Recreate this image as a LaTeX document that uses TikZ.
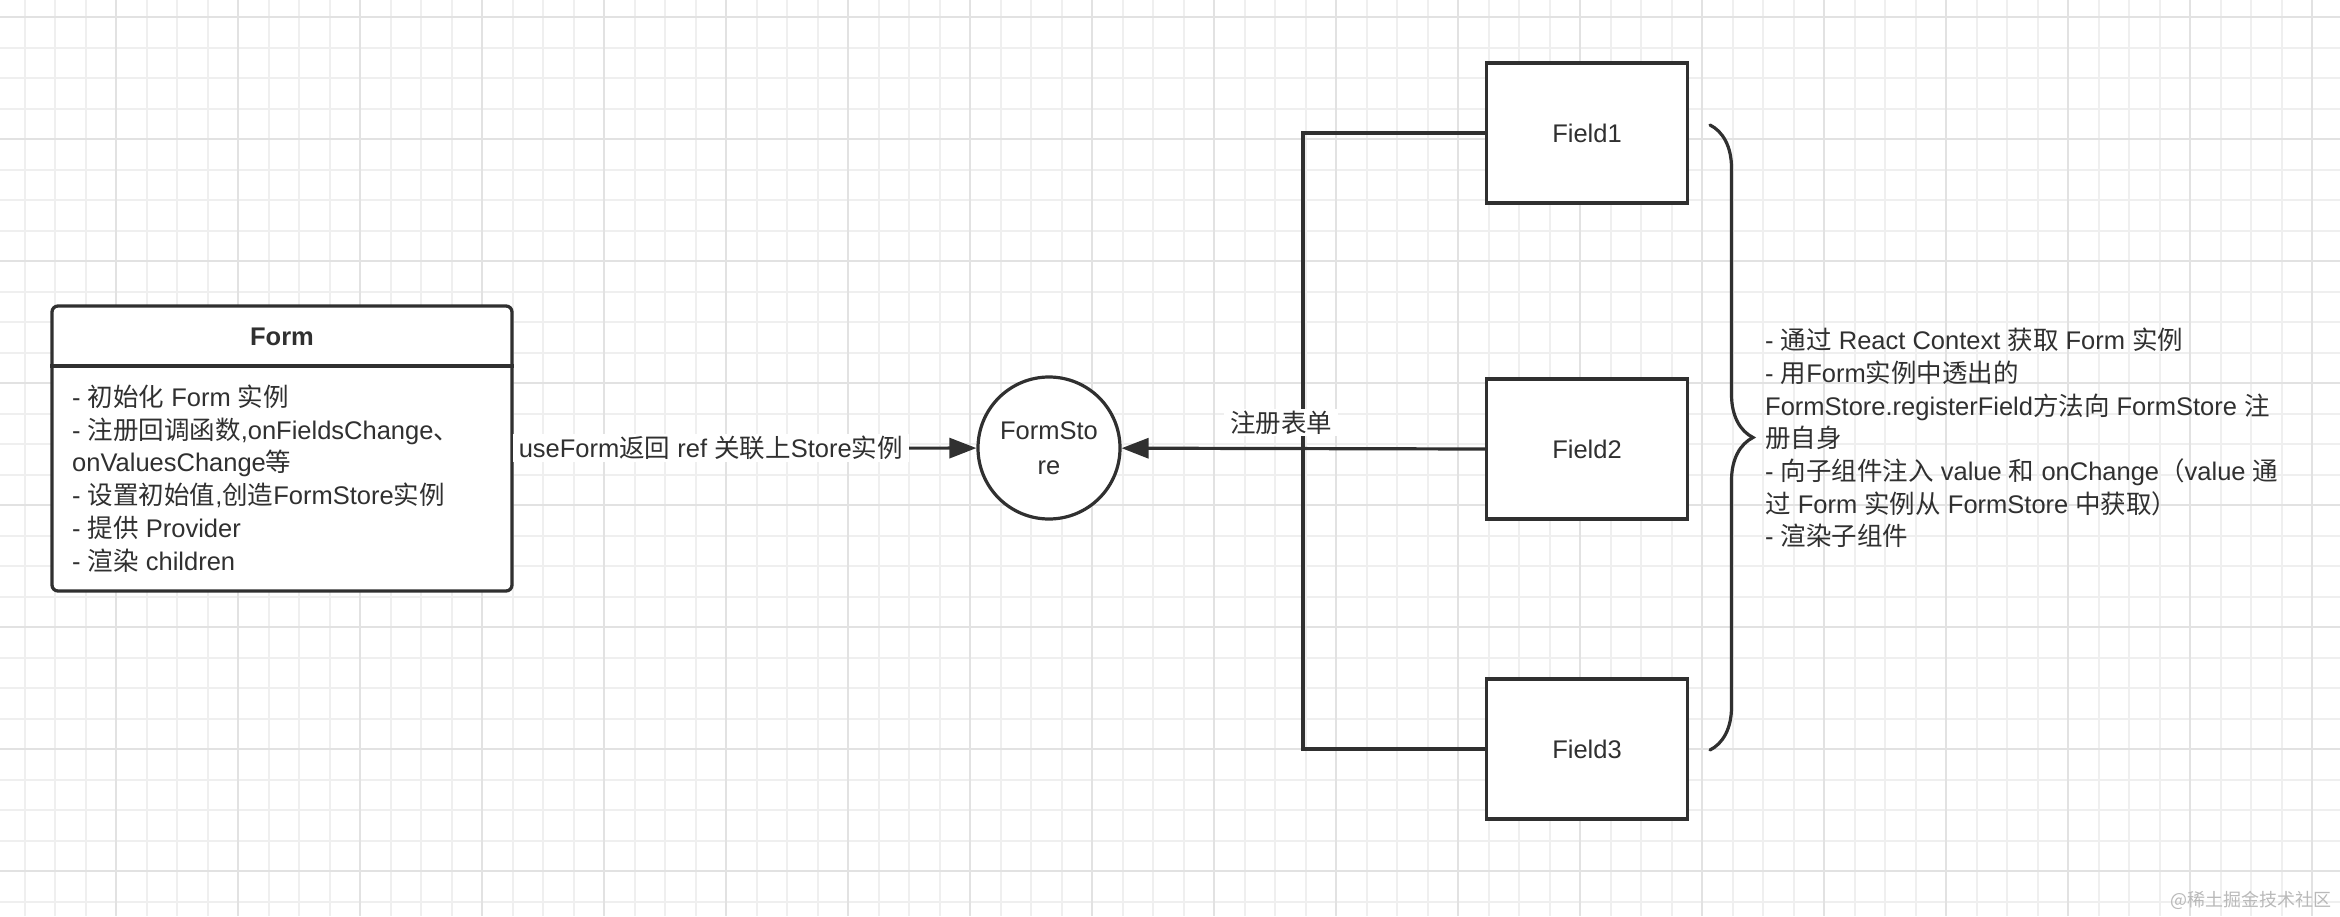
\documentclass[tikz,border=0pt]{standalone}
\usepackage{fontspec}
\setmainfont{Liberation Sans}
\newfontfamily\cjk{Noto Sans CJK SC}
\newcommand\zh[1]{{\cjk #1}}
\usetikzlibrary{arrows.meta,decorations.pathreplacing}
\definecolor{ink}{HTML}{303030}
\definecolor{gridminor}{HTML}{EFEFEF}
\definecolor{gridmajor}{HTML}{E2E2E2}

\begin{document}
\begin{tikzpicture}[x=1pt,y=-1pt,
  every node/.style={text=ink,font=\fontsize{25.5}{32.7}\selectfont},
  box/.style={draw=ink,line width=3.3pt,fill=white},
  link/.style={draw=ink,line width=3.2pt},
  flow/.style={link,-{Triangle[length=27pt,width=20pt]}},
  lbl/.style={fill=white,inner xsep=6pt,inner ysep=2pt}] % 2340 x 916
  \useasboundingbox (0,0) rectangle (2340,916);
  \fill[white] (0,0) rectangle (2340,916);
  \begin{scope}
    \clip (0,0) rectangle (2340,916);
    \foreach \i in {0,...,77} \draw[gridminor,line width=2pt] ({-6+30.5*\i},0) -- ++(0,916);
    \foreach \j in {0,...,29} \draw[gridminor,line width=2pt] (0,{17+30.5*\j}) -- ++(2340,0);
    \foreach \i in {0,...,19} \draw[gridmajor,line width=2.4pt] ({-6+122*\i},0) -- ++(0,916);
    \foreach \j in {0,...,7} \draw[gridmajor,line width=2.4pt] (0,{17+122*\j}) -- ++(2340,0);
  \end{scope}

  \node[box,rounded corners=6pt,minimum width=460pt,minimum height=285pt] (form) at (282,448.5) {};
  \node[font=\fontsize{25.5}{32.7}\selectfont\bfseries] (formtitle) at (282,337) {Form};
  \coordinate (sep) at (0,366);
  \draw[box] (form.west |- sep) -- (form.east |- sep);
  \node[anchor=west,align=left,inner sep=0pt] (formbody) at (72,478.5)
    {- \zh{初始化} Form \zh{实例}\\- \zh{注册回调函数},onFieldsChange\zh{、}\\onValuesChange\zh{等}\\- \zh{设置初始值},\zh{创造}FormStore\zh{实例}\\- \zh{提供} Provider\\- \zh{渲染} children};

  \node[circle,draw=ink,line width=3.2pt,fill=white,minimum size=142pt,inner sep=0pt,
    align=center,font=\fontsize{25.5}{35}\selectfont] (store) at (1049,448) {FormSto\\re};

  \foreach \n/\y in {1/133,2/449,3/749}
    \node[box,minimum width=201pt,minimum height=140pt] (f\n) at (1587,\y) {Field\n};

  \coordinate (jn) at (1303,449);
  \draw[link] (f1.west) -| (jn) |- (f3.west);
  \draw[flow] (f2.west) -- node[lbl,pos=0.56,yshift=26pt] (reglbl) {\zh{注册表单}} (store);
  \draw[flow] (form.east) -- node[lbl,pos=0.426] (uselbl) {useForm\zh{返回} ref \zh{关联上}Store\zh{实例}} (store);

  \coordinate (bt) at (1710,125);
  \coordinate (bb) at (1710,750);
  \draw[link,line cap=round,decorate,decoration={brace,amplitude=43pt}] (bt) -- (bb);
  \node[anchor=west,align=left,inner sep=0pt] (notes) at (1765,438)
    {- \zh{通过} React Context \zh{获取} Form \zh{实例}\\- \zh{用}Form\zh{实例中透出的}\\FormStore.registerField\zh{方法向} FormStore \zh{注}\\\zh{册自身}\\- \zh{向子组件注入} value \zh{和} onChange\zh{（}value \zh{通}\\\zh{过} Form \zh{实例从} FormStore \zh{中获取）}\\- \zh{渲染子组件}};

  \node[anchor=east,text=gray!55,font=\cjk\fontsize{18}{20}\selectfont] (mark) at (2335,900) {@稀土掘金技术社区};
\end{tikzpicture}
\end{document}
